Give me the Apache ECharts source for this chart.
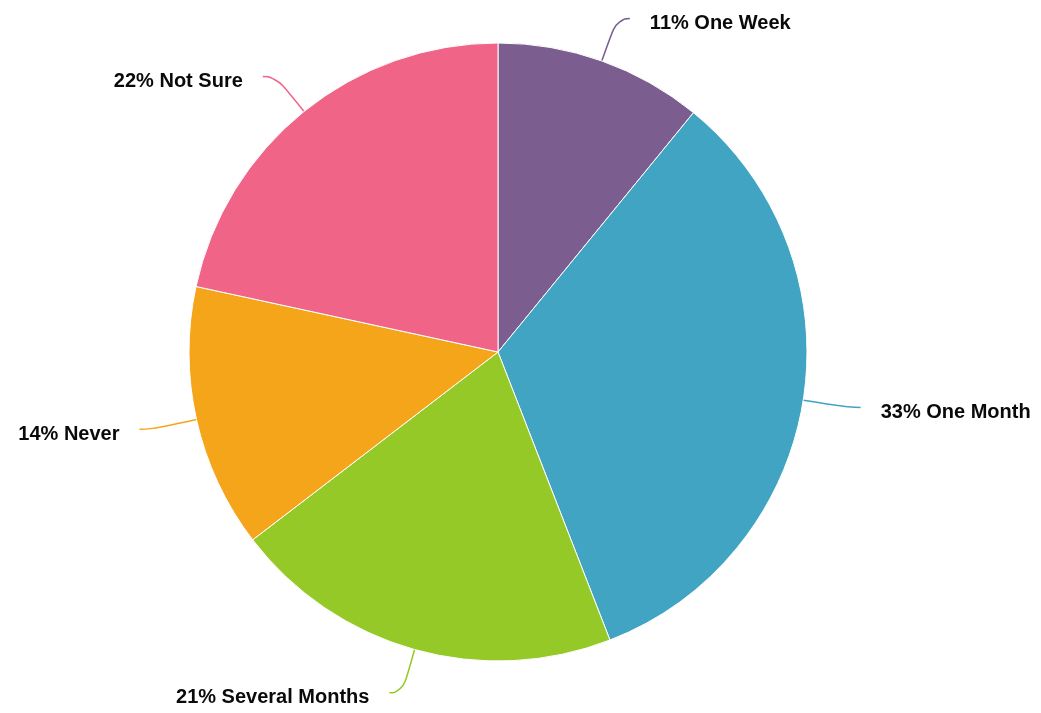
<!DOCTYPE html>
<html>
<head>
<meta charset="utf-8">
<style>
  html, body { margin: 0; padding: 0; background: #ffffff; }
  #chart { width: 1041px; height: 713px; }
</style>
<script src="https://cdn.jsdelivr.net/npm/echarts@6/dist/echarts.min.js"></script>
</head>
<body>
<div id="chart"></div>
<script>
// Survey answers, clockwise from the top of the pie
const categories = ['One Week', 'One Month', 'Several Months', 'Never', 'Not Sure'];
const shares = [10.9, 33.2, 20.5, 13.8, 21.6];
const colors = ['#7b5e8f', '#40a4c2', '#95c928', '#f5a519', '#f06487'];

const chart = echarts.init(document.getElementById('chart'), null, { renderer: 'canvas' });

const data = categories.map((name, i) => ({
  name: name,
  value: shares[i],
  itemStyle: { color: colors[i] },
  labelLine: { lineStyle: { color: colors[i] } }
}));

const labelFont = {
  fontFamily: '"Liberation Sans", Arial, sans-serif',
  fontWeight: 'bold',
  fontSize: 20,
  color: '#0a0a0a'
};

chart.setOption({
  animation: false,
  backgroundColor: '#ffffff',
  series: [{
    type: 'pie',
    center: [498, 352],
    radius: [0, 309],
    startAngle: 90,
    clockwise: true,
    avoidLabelOverlap: true,
    data: data,
    itemStyle: { borderColor: '#ffffff', borderWidth: 1 },
    emphasis: { disabled: true },
    label: Object.assign({
      show: true,
      position: 'outside',
      // text sits a little below the end of its leader line
      formatter: p => '{t|' + Math.round(p.percent) + '% ' + p.name + '}',
      rich: { t: Object.assign({ height: 20, padding: [10, 0, 0, 0], verticalAlign: 'bottom' }, labelFont) },
      distanceToLabelLine: 20
    }, labelFont),
    labelLine: {
      show: true,
      length: 45,
      length2: 13,
      smooth: 0.6,
      lineStyle: { width: 1.5 }
    }
  }]
});
</script>
</body>
</html>
